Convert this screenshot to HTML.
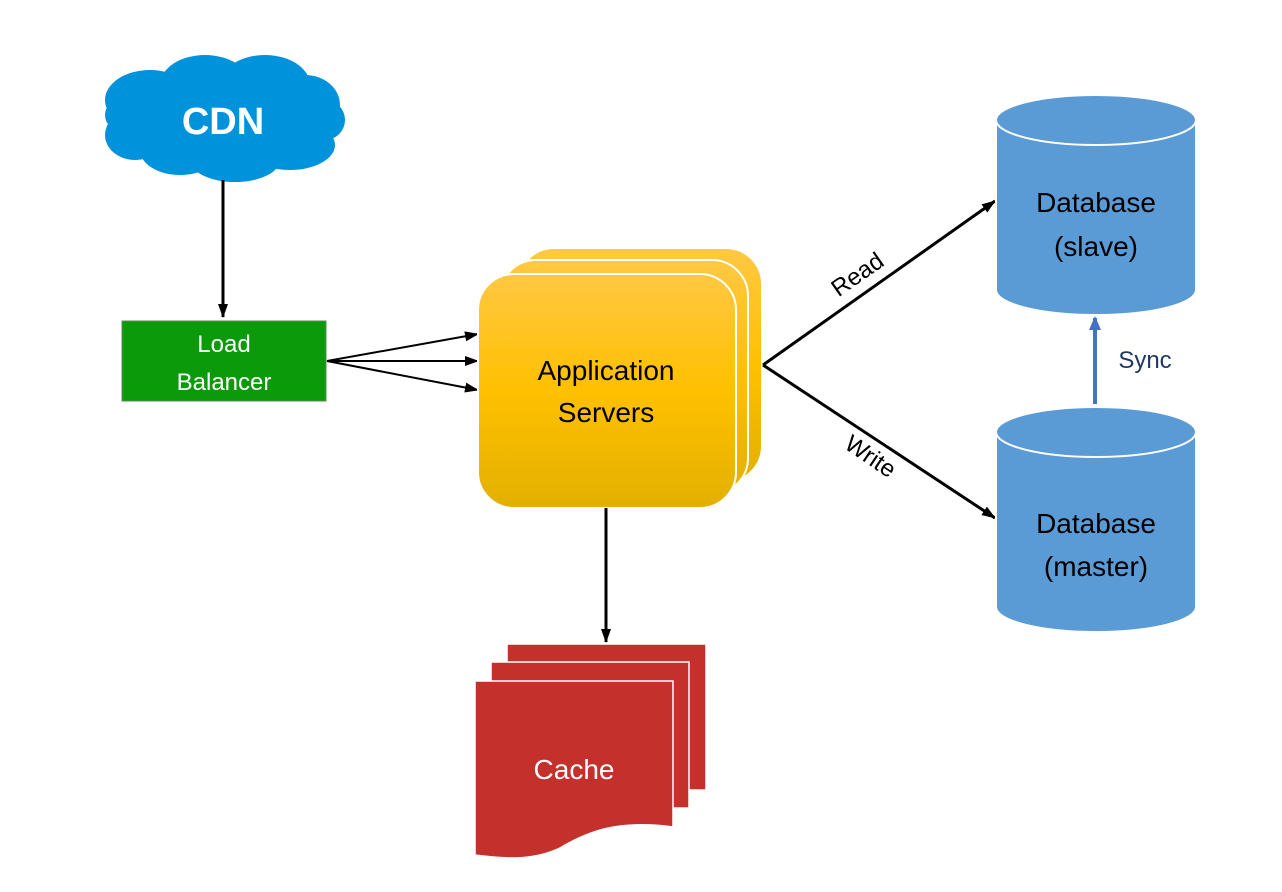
<!DOCTYPE html>
<html><head><meta charset="utf-8"><style>body{margin:0;background:#fff}svg{display:block}text{font-family:"Liberation Sans",sans-serif}</style></head><body>
<svg width="1282" height="892" viewBox="0 0 1282 892" xmlns="http://www.w3.org/2000/svg">
<defs>
<marker id="ah" markerWidth="14" markerHeight="14" refX="13" refY="7" orient="auto" markerUnits="userSpaceOnUse"><path d="M0,2 L14,7 L0,12 z" fill="#000"/></marker>
<marker id="ab" markerWidth="14" markerHeight="14" refX="12" refY="7" orient="auto" markerUnits="userSpaceOnUse"><path d="M0,1 L14,7 L0,13 z" fill="#4472C4"/></marker>
<linearGradient id="yg" x1="0" y1="0" x2="0" y2="1"><stop offset="0" stop-color="#FFC842"/><stop offset="0.5" stop-color="#FFC000"/><stop offset="1" stop-color="#E3B000"/></linearGradient>
</defs>
<g fill="#0092DB">
<ellipse cx="224" cy="120" rx="110" ry="42"/>
<ellipse cx="150" cy="100" rx="45" ry="30"/><ellipse cx="205" cy="85" rx="45" ry="30"/><ellipse cx="265" cy="85" rx="45" ry="30"/><ellipse cx="305" cy="105" rx="35" ry="30"/>
<ellipse cx="135" cy="135" rx="30" ry="25"/><ellipse cx="180" cy="150" rx="40" ry="25"/><ellipse cx="235" cy="160" rx="45" ry="22"/><ellipse cx="290" cy="145" rx="45" ry="25"/>
<ellipse cx="125" cy="115" rx="20" ry="18"/><ellipse cx="325" cy="120" rx="20" ry="20"/>
</g>
<text x="223" y="134" font-size="38" font-weight="bold" fill="#fff" text-anchor="middle">CDN</text>
<line x1="223" y1="180" x2="223" y2="317" stroke="#000" stroke-width="3" marker-end="url(#ah)"/>
<rect x="122" y="321" width="204" height="80" fill="#0A9A0A" stroke="#5a8a5a"/>
<text x="224" y="352" font-size="24" fill="#fff" text-anchor="middle">Load</text>
<text x="224" y="390" font-size="24" fill="#fff" text-anchor="middle">Balancer</text>
<g stroke="#000" stroke-width="2" marker-end="url(#ah)">
<line x1="327" y1="361" x2="478" y2="334"/><line x1="327" y1="361" x2="478" y2="361"/><line x1="327" y1="361" x2="478" y2="390"/>
</g>
<rect x="518" y="248" width="244" height="234" rx="36" fill="url(#yg)" stroke="#fff" stroke-width="2"/>
<rect x="500" y="260" width="248" height="234" rx="36" fill="url(#yg)" stroke="#fff" stroke-width="2"/>
<rect x="478" y="274" width="258" height="234" rx="36" fill="url(#yg)" stroke="#fff" stroke-width="2"/>
<text x="606" y="380" font-size="28" fill="#000" text-anchor="middle">Application</text>
<text x="606" y="422" font-size="28" fill="#000" text-anchor="middle">Servers</text>
<line x1="606" y1="508" x2="606" y2="642" stroke="#000" stroke-width="3" marker-end="url(#ah)"/>
<path d="M507,644 H706 V790 H507 Z" fill="#C4302B" stroke="#fff" stroke-width="1.5"/>
<path d="M491,662 H689 V808 H491 Z" fill="#C4302B" stroke="#fff" stroke-width="1.5"/>
<path d="M475,681 H673 V827 C620,820 590,830 560,848 C530,862 500,858 475,855 Z" fill="#C4302B" stroke="#fff" stroke-width="1.5"/>
<text x="574" y="779" font-size="28" fill="#fff" text-anchor="middle">Cache</text>
<line x1="763" y1="365" x2="995" y2="201" stroke="#000" stroke-width="3" marker-end="url(#ah)"/>
<line x1="763" y1="365" x2="995" y2="518" stroke="#000" stroke-width="3" marker-end="url(#ah)"/>
<text x="862" y="281" font-size="24" fill="#000" text-anchor="middle" transform="rotate(-35 862 281)">Read</text>
<text x="866" y="463" font-size="24" fill="#000" text-anchor="middle" transform="rotate(34 866 463)">Write</text>
<g fill="#5B9BD5" stroke="#fff" stroke-width="2">
<path d="M996,120 V290 A100,25 0 0 0 1196,290 V120 Z"/>
<ellipse cx="1096" cy="120" rx="100" ry="25"/>
<path d="M996,432 V607 A100,25 0 0 0 1196,607 V432 Z"/>
<ellipse cx="1096" cy="432" rx="100" ry="25"/>
</g>
<text x="1096" y="212" font-size="28" fill="#000" text-anchor="middle">Database</text>
<text x="1096" y="256" font-size="28" fill="#000" text-anchor="middle">(slave)</text>
<text x="1096" y="533" font-size="28" fill="#000" text-anchor="middle">Database</text>
<text x="1096" y="576" font-size="28" fill="#000" text-anchor="middle">(master)</text>
<line x1="1095" y1="404" x2="1095" y2="318" stroke="#4472C4" stroke-width="4" marker-end="url(#ab)"/>
<text x="1145" y="368" font-size="24" fill="#1F3864" text-anchor="middle">Sync</text>
</svg>
</body></html>
